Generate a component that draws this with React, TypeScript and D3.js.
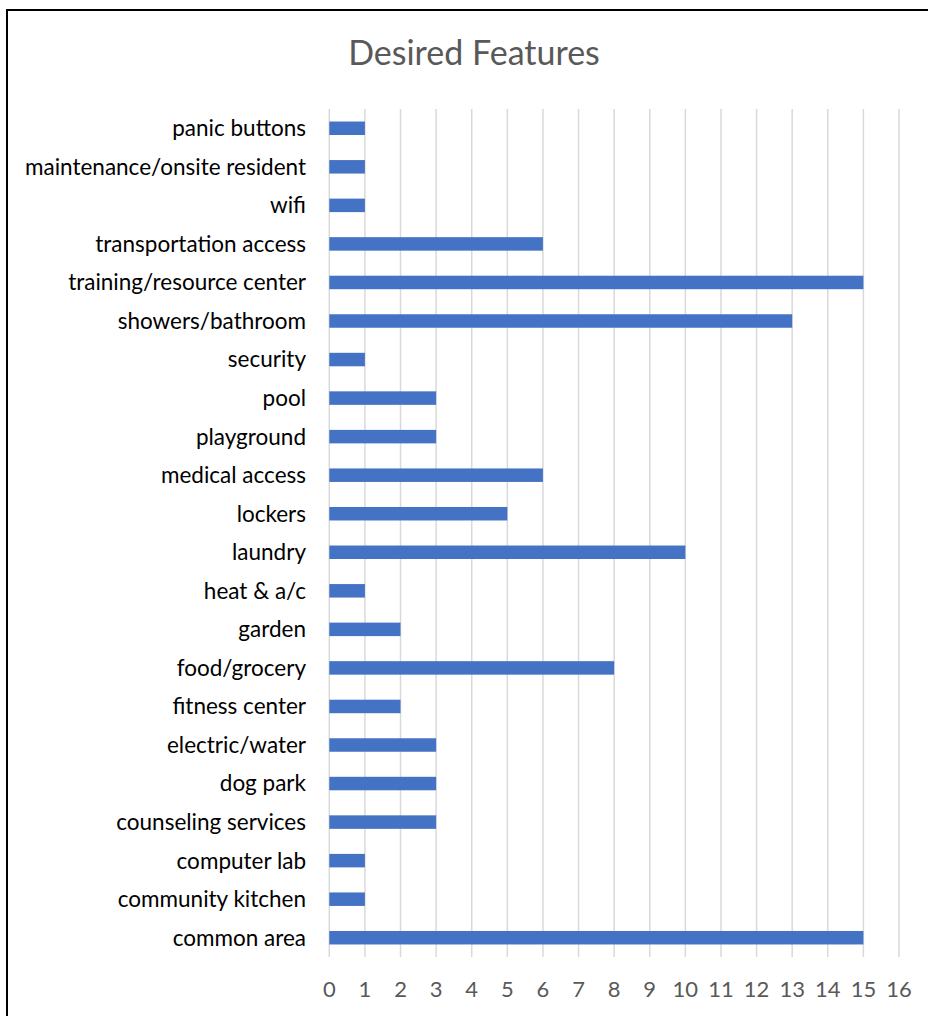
import React from "react";
import * as d3 from "d3";

const categories = [
  "panic buttons",
  "maintenance/onsite resident",
  "wifi",
  "transportation access",
  "training/resource center",
  "showers/bathroom",
  "security",
  "pool",
  "playground",
  "medical access",
  "lockers",
  "laundry",
  "heat & a/c",
  "garden",
  "food/grocery",
  "fitness center",
  "electric/water",
  "dog park",
  "counseling services",
  "computer lab",
  "community kitchen",
  "common area",
];
const values = [1, 1, 1, 6, 15, 13, 1, 3, 3, 6, 5, 10, 1, 2, 8, 2, 3, 3, 3, 1, 1, 15];
const xTicks = d3.range(0, 17);
const title = "Desired Features";

export default function App() {
  const W = 928;
  const H = 1016;
  const left = 329.3;
  const right = 899;
  const top = 109;
  const bottom = 957;
  const x = d3.scaleLinear().domain([0, 16]).range([left, right]);
  const y = d3.scaleBand<string>().domain(categories).range([top, bottom]).paddingInner(0.65).paddingOuter(0.325);
  const font = "Lato, 'Open Sans', sans-serif";
  return (
    <svg width={W} height={H} style={{ position: "absolute", left: 0, top: 0 }}>
      <rect x={0} y={0} width={W} height={H} fill="#fff" />
      <rect x={7} y={10} width={W + 20} height={H + 20} fill="#fff" stroke="#000" strokeWidth={2} />
      <text x={474} y={65} textAnchor="middle" fontFamily={font} fontSize={34} fill="#595959">
        {title}
      </text>
      {xTicks.map((t) => (
        <line key={"g" + t} x1={x(t)} x2={x(t)} y1={top} y2={bottom} stroke="#d9d9d9" strokeWidth={1.5} />
      ))}
      {categories.map((c, i) => (
        <rect key={"b" + c} x={x(0)} y={y(c)!} width={x(values[i]) - x(0)} height={y.bandwidth()} fill="#4472C4" />
      ))}
      {categories.map((c) => (
        <text
          key={"l" + c}
          x={306}
          y={y(c)! + y.bandwidth() / 2}
          dy="0.35em"
          textAnchor="end"
          fontFamily={font}
          fontSize={22.5}
          fill="#000"
        >
          {c}
        </text>
      ))}
      {xTicks.map((t) => (
        <text key={"t" + t} x={x(t)} y={989} dy="0.35em" textAnchor="middle" fontFamily={font} fontSize={22} fill="#595959">
          {t}
        </text>
      ))}
    </svg>
  );
}
